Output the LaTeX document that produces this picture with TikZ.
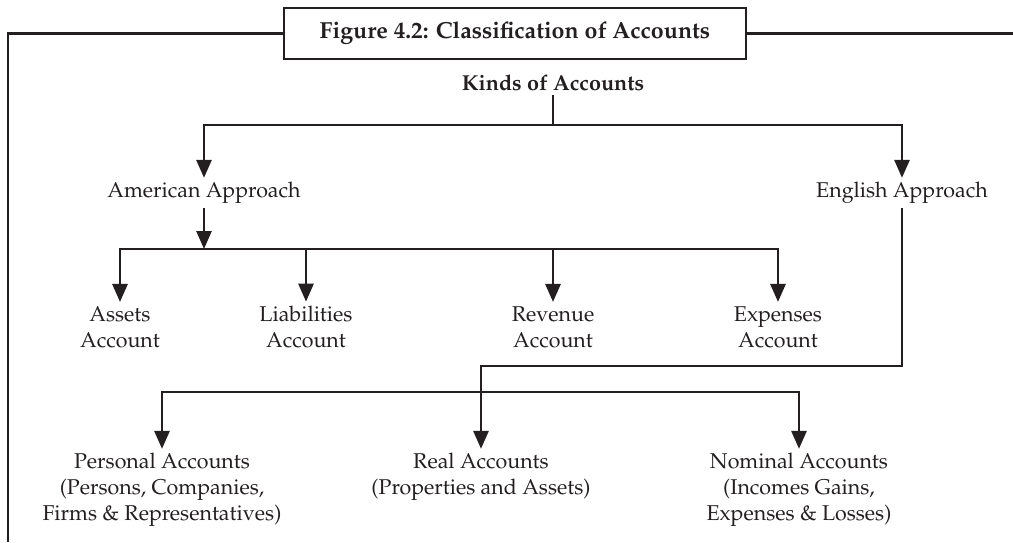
\documentclass[tikz,border=0pt]{standalone}
\usepackage[T1]{fontenc}
\usepackage{mathpazo}
\usepackage{xcolor}
\usepackage{tikz}
\usetikzlibrary{arrows.meta}

\definecolor{ink}{RGB}{35,31,32}

\begin{document}
\begin{tikzpicture}[x=0.5pt, y=-0.5pt,    line/.style={line width=1.4pt, ink},    flow/.style={line, -{Triangle[width=7.5pt,length=9pt]}},    txt/.style={ink, font=\fontsize{10.7}{13}\selectfont, align=center, inner sep=2pt},    heading/.style={ink, font=\fontsize{10.8}{13}\selectfont\bfseries, inner sep=2pt}]
		\useasboundingbox (0,0) rectangle (1013,542);
		% title and frame
		\node[heading, line, draw, font=\fontsize{11.6}{13}\selectfont\bfseries, minimum width=231pt, minimum height=25.5pt] (title) at (515,33.5) {Figure 4.2: Classification of Accounts};
		\draw[line] (title.west) -- (8,33.5) -- (8,542);
		\draw[line] (title.east) -- (1013,33.5);
		% the two approaches
		\node[heading] (kinds) at (553,83) {Kinds of Accounts};
		\node[txt] (american) at (204,193) {American Approach};
		\node[txt] (english) at (902,193) {English Approach};
		\coordinate (split) at (553,125);
		\draw[line] (kinds) -- (split);
		\draw[flow] (split) -| (american);
		\draw[flow] (split) -| (english);
		% american accounts
		\node[txt] (assets) at (120,327) {Assets\\Account};
		\node[txt] (liabilities) at (306,327) {Liabilities\\Account};
		\node[txt] (revenue) at (553,327) {Revenue\\Account};
		\node[txt] (expenses) at (778,327) {Expenses\\Account};
		\coordinate (amsplit) at (204,249);
		\draw[flow] (american) -- (amsplit);
		\draw[flow] (amsplit) -| (assets);
		\draw[flow] (amsplit) -| (liabilities);
		\draw[flow] (amsplit) -| (revenue);
		\draw[flow] (amsplit) -| (expenses);
		% english accounts
		\node[txt] (personal) at (162,490) {Personal Accounts\\(Persons, Companies,\\Firms \& Representatives)};
		\node[txt] (real) at (481,477) {Real Accounts\\(Properties and Assets)};
		\node[txt] (nominal) at (799,490) {Nominal Accounts\\(Incomes Gains,\\Expenses \& Losses)};
		\coordinate (enturn) at (481,366);
		\coordinate (ensplit) at (481,392);
		\draw[flow] (english) |- (enturn) -- (real);
		\draw[flow] (ensplit) -| (personal);
		\draw[flow] (ensplit) -| (nominal);
	\end{tikzpicture}
\end{document}
